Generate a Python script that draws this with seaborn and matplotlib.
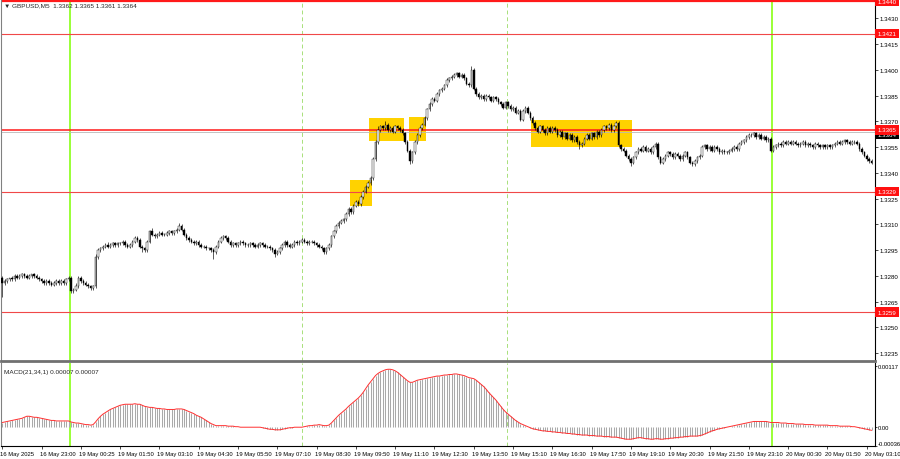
import numpy as np
import matplotlib
matplotlib.use("Agg")
import matplotlib.pyplot as plt
import matplotlib.transforms as mtransforms
from matplotlib.patches import Rectangle
import seaborn as sns

# GBPUSD M5 candles, prices in pips above 1.3000
first_open = 279
closes = [
    276, 277, 278, 279, 278, 280, 279, 280, 281, 280,
    279, 280, 281, 280, 279, 278, 277, 276, 277, 276,
    275, 276, 277, 276, 277, 276, 278, 279, 271, 272,
    274, 279, 277, 276, 275, 274, 273, 274, 291, 295,
    296, 297, 298, 297, 298, 299, 298, 299, 299, 300,
    298, 297, 298, 300, 302, 301, 297, 296, 295, 300,
    306, 304, 303, 304, 305, 304, 304, 305, 306, 305,
    306, 307, 309, 307, 304, 302, 301, 300, 299, 300,
    298, 297, 297, 296, 296, 295, 294, 297, 300, 302,
    303, 302, 300, 298, 299, 298, 299, 300, 299, 298,
    298, 299, 298, 297, 298, 299, 298, 297, 297, 296,
    295, 293, 294, 296, 298, 300, 298, 297, 298, 300,
    299, 300, 301, 300, 299, 300, 300, 299, 298, 297,
    296, 294, 296, 298, 303, 306, 309, 311, 312, 313,
    316, 319, 317, 321, 323, 322, 326, 329, 332, 334,
    337, 348, 358, 365, 367, 366, 368, 365, 366, 364,
    367, 366, 365, 363, 358, 353, 347, 352, 358, 362,
    366, 368, 372, 377, 380, 383, 382, 386, 388, 389,
    391, 394, 395, 396, 397, 398, 396, 397, 395, 392,
    391, 400, 389, 386, 384, 385, 383, 385, 384, 382,
    384, 383, 381, 380, 378, 381, 379, 377, 378, 375,
    376, 371, 376, 378, 375, 372, 369, 366, 364, 367,
    365, 363, 366, 364, 366, 365, 362, 364, 361, 363,
    360, 362, 359, 361, 358, 356, 357, 360, 362, 360,
    363, 361, 364, 362, 365, 367, 366, 368, 365, 367,
    369, 356, 354, 353, 350, 348, 346, 349, 352, 354,
    353, 355, 353, 354, 352, 355, 357, 349, 346, 348,
    350, 352, 351, 349, 351, 350, 348, 350, 352, 349,
    346, 345, 347, 349, 350, 355, 356, 354, 355, 353,
    355, 354, 352, 353, 352, 352, 353, 354, 355, 354,
    357, 358, 359, 361, 362, 362, 363, 361, 362, 360,
    361, 359, 360, 353, 355, 356, 357, 356, 358, 357,
    358, 357, 358, 357, 356, 357, 358, 356, 357, 356,
    355, 357, 356, 355, 356, 355, 356, 355, 356, 357,
    358, 357, 358, 359, 358, 357, 358, 358, 357, 354,
    352, 350, 348, 347, 346,
]
# wick length above / below the body, pips
hi_wick = [
    1, 1, 1, 0, 1, 1, 1, 1, 1, 1,  1, 1, 0, 1, 1, 1, 1, 1, 1, 1,
    1, 1, 1, 1, 1, 1, 1, 1, 1, 1,  2, 1, 1, 1, 1, 1, 1, 1, 2, 1,
    1, 1, 1, 2, 1, 1, 1, 1, 1, 1,  1, 1, 1, 1, 1, 1, 1, 1, 1, 1,
    1, 2, 1, 1, 1, 1, 1, 1, 1, 1,  1, 1, 2, 1, 1, 1, 1, 1, 1, 1,
    1, 1, 1, 1, 1, 1, 1, 1, 1, 1,  1, 1, 1, 1, 1, 1, 1, 1, 1, 1,
    1, 1, 1, 1, 1, 1, 1, 1, 1, 1,  1, 1, 1, 1, 1, 1, 1, 1, 1, 1,
    1, 1, 1, 1, 1, 1, 1, 1, 1, 1,  1, 1, 1, 1, 1, 1, 1, 1, 1, 1,
    1, 1, 1, 1, 1, 1, 1, 1, 1, 1,  1, 1, 1, 2, 1, 1, 2, 1, 1, 1,
    1, 1, 1, 1, 1, 1, 1, 1, 1, 1,  1, 1, 1, 1, 1, 1, 1, 1, 1, 1,
    1, 1, 1, 1, 1, 1, 1, 1, 1, 1,  1, 2, 1, 1, 1, 1, 1, 1, 1, 1,
    1, 1, 1, 1, 1, 1, 1, 1, 1, 1,  1, 1, 1, 1, 1, 1, 1, 1, 1, 1,
    1, 1, 1, 1, 1, 1, 1, 1, 1, 1,  1, 1, 1, 1, 1, 1, 1, 1, 1, 1,
    1, 1, 1, 1, 1, 1, 1, 1, 1, 1,  1, 1, 1, 1, 1, 1, 1, 1, 1, 1,
    1, 1, 1, 1, 1, 1, 1, 1, 1, 1,  1, 1, 1, 1, 1, 1, 1, 1, 1, 1,
    1, 1, 1, 1, 1, 1, 1, 1, 1, 1,  1, 1, 1, 1, 1, 1, 1, 1, 1, 1,
    1, 1, 1, 1, 1, 1, 1, 1, 1, 1,  1, 1, 1, 1, 1, 1, 1, 1, 1, 1,
    1, 1, 1, 1, 1, 1, 1, 1, 1, 1,  1, 1, 1, 1, 1, 1, 1, 1, 1, 1,
    1, 1, 1, 1, 1, 1, 1, 1, 1, 1,
    1, 1, 1, 1, 1,
]
lo_wick = [
    8, 1, 1, 1, 1, 1, 1, 1, 1, 1,  1, 1, 1, 1, 1, 1, 1, 1, 1, 1,
    1, 1, 1, 1, 1, 1, 1, 1, 1, 1,  1, 1, 1, 1, 1, 1, 1, 1, 1, 1,
    1, 1, 1, 1, 1, 1, 1, 1, 1, 1,  1, 1, 1, 1, 1, 1, 1, 2, 1, 1,
    1, 1, 1, 1, 1, 1, 1, 1, 1, 1,  1, 1, 1, 1, 1, 1, 1, 1, 1, 1,
    1, 1, 1, 1, 1, 1, 4, 1, 1, 1,  1, 1, 1, 1, 1, 1, 1, 1, 1, 1,
    1, 1, 1, 1, 1, 1, 1, 1, 1, 1,  1, 2, 1, 1, 1, 1, 1, 1, 1, 1,
    1, 1, 1, 1, 1, 1, 1, 1, 1, 1,  1, 1, 1, 1, 1, 1, 1, 1, 1, 1,
    1, 1, 1, 1, 1, 1, 1, 1, 1, 1,  1, 1, 1, 1, 1, 1, 1, 1, 1, 1,
    1, 1, 1, 1, 1, 1, 2, 1, 1, 1,  1, 1, 1, 1, 1, 1, 1, 1, 1, 1,
    1, 1, 1, 1, 1, 1, 1, 1, 1, 1,  1, 1, 1, 1, 1, 1, 1, 1, 1, 1,
    1, 1, 1, 1, 1, 1, 1, 1, 1, 1,  1, 1, 1, 1, 1, 1, 1, 1, 1, 1,
    1, 1, 1, 1, 1, 1, 1, 1, 1, 1,  1, 1, 1, 1, 1, 2, 1, 1, 1, 1,
    1, 1, 1, 1, 1, 1, 1, 1, 1, 1,  1, 1, 1, 1, 1, 1, 2, 1, 1, 1,
    1, 1, 1, 1, 1, 1, 1, 1, 1, 1,  1, 1, 1, 1, 1, 1, 1, 1, 1, 1,
    1, 1, 1, 1, 1, 1, 1, 1, 1, 1,  1, 1, 1, 1, 1, 1, 1, 1, 1, 1,
    1, 1, 1, 1, 1, 1, 1, 1, 1, 1,  1, 1, 1, 1, 1, 1, 1, 1, 1, 1,
    1, 1, 1, 1, 1, 1, 1, 1, 1, 1,  1, 1, 1, 1, 1, 1, 1, 1, 1, 1,
    1, 1, 1, 1, 1, 1, 1, 1, 1, 1,
    1, 1, 1, 1, 1,
]
# MACD(21,34,1) main value, units of 1e-5
macd = [
    9, 10, 11, 12, 13, 14, 15, 16, 17, 19,
    21, 21, 20, 19, 19, 18, 17, 16, 15, 14,
    13, 13, 12, 12, 12, 12, 12, 12, 10, 9,
    8, 8, 7, 6, 5, 5, 4, 5, 10, 16,
    21, 25, 28, 31, 34, 36, 38, 40, 42, 43,
    44, 44, 44, 44, 45, 44, 44, 42, 40, 39,
    38, 38, 37, 36, 36, 35, 35, 34, 34, 34,
    34, 35, 35, 35, 34, 32, 30, 28, 26, 23,
    21, 19, 16, 13, 10, 7, 5, 3, 3, 3,
    3, 3, 2, 2, 2, 1, 1, 0, 0, 0,
    0, 0, 0, 0, 0, 0, -1, -2, -3, -4,
    -4, -5, -5, -5, -4, -3, -2, -1, -1, 0,
    0, 0, 0, 1, 2, 3, 3, 4, 4, 5,
    4, 3, 3, 4, 8, 13, 18, 23, 27, 31,
    35, 40, 44, 48, 52, 56, 61, 67, 74, 81,
    87, 93, 99, 103, 106, 108, 110, 111, 111, 110,
    108, 105, 101, 97, 93, 89, 86, 86, 88, 90,
    91, 92, 93, 94, 95, 96, 97, 98, 98, 99,
    100, 100, 101, 101, 102, 102, 101, 100, 99, 97,
    95, 94, 93, 90, 86, 82, 78, 73, 67, 62,
    57, 52, 46, 40, 34, 29, 25, 21, 17, 13,
    10, 7, 5, 3, 1, -1, -3, -4, -5, -6,
    -7, -7, -8, -8, -9, -9, -10, -10, -11, -11,
    -12, -12, -13, -13, -14, -14, -15, -15, -15, -16,
    -16, -16, -17, -17, -17, -18, -18, -18, -19, -19,
    -19, -20, -21, -22, -23, -23, -23, -22, -21, -20,
    -20, -21, -22, -22, -23, -23, -22, -22, -23, -23,
    -22, -22, -21, -21, -20, -20, -19, -19, -18, -18,
    -17, -17, -17, -17, -16, -15, -13, -11, -9, -7,
    -6, -4, -3, -2, -1, 0, 1, 2, 3, 4,
    5, 6, 7, 8, 9, 10, 11, 11, 11, 11,
    11, 11, 10, 9, 9, 9, 9, 8, 8, 8,
    7, 7, 7, 6, 6, 6, 6, 5, 5, 5,
    5, 4, 4, 4, 4, 4, 4, 3, 3, 3,
    3, 2, 2, 2, 2, 2, 1, 1, 0, -1,
    -2, -3, -4, -5, -6,
]

time_labels = ["16 May 2025", "16 May 23:00", "19 May 00:25", "19 May 01:50",
               "19 May 03:10", "19 May 04:30", "19 May 05:50", "19 May 07:10",
               "19 May 08:30", "19 May 09:50", "19 May 11:10", "19 May 12:30",
               "19 May 13:50", "19 May 15:10", "19 May 16:30", "19 May 17:50",
               "19 May 19:10", "19 May 20:30", "19 May 21:50", "19 May 23:10",
               "20 May 00:30", "20 May 01:50", "20 May 03:10"]
level_prices = [1.3440, 1.3421, 1.3365, 1.3329, 1.3259]
bid_price = 1.3364
day_starts = [27.6, 313.4]       # bar index of new trading day
session_marks = [122.1, 205.5]
# yellow zones: bar from, bar to, price low (pips), price high (pips)
zone_bar0 = [141.5, 149.5, 165.5, 215.5]
zone_bar1 = [150.6, 163.6, 172.6, 256.5]
zone_lo = [320.5, 358.5, 358.5, 355.0]
zone_hi = [336.0, 372.0, 372.5, 370.5]

sns.set_style("white")
plt.rcParams['font.family'] = ['Liberation Sans', 'DejaVu Sans']
FS = 4.4

c = 1.3 + np.array(closes) / 1e4
o = 1.3 + np.array([first_open] + closes[:-1]) / 1e4
hi = np.maximum(o, c) + np.array(hi_wick) / 1e4
lo = np.minimum(o, c) - np.array(lo_wick) / 1e4
x = np.arange(len(c))
m = np.array(macd) / 1e5

fig = plt.figure(figsize=(9, 4.6), dpi=100)
ax = fig.add_axes([1 / 900, 1 - 362 / 460, 874 / 900, 362 / 460])
ax2 = fig.add_axes([1 / 900, 13 / 460, 874 / 900, 83 / 460])

xmax = 874 / 2.456 - 0.5
for a in (ax, ax2):
    a.set_xlim(-0.5, xmax)
    a.set_facecolor("white")
    for d in day_starts:
        a.axvline(d, color="#7fff00", lw=1.1, zorder=1)
    for d in session_marks:
        a.axvline(d, color="#a8e07a", lw=0.7, ls=(0, (4, 3)), zorder=1)

ax.set_ylim(1.32305, 1.34412)

# zones
for b0, b1, zl, zh in zip(zone_bar0, zone_bar1, zone_lo, zone_hi):
    ax.add_patch(Rectangle((b0, 1.3 + zl / 1e4), b1 - b0, (zh - zl) / 1e4,
                           facecolor="#ffd200", edgecolor="none", zorder=0.5))

# level lines
for p in level_prices:
    if p == 1.3440:
        ax.axhline(p, color="#ff1a1a", lw=1.6, zorder=2)
    elif p == 1.3365:
        ax.axhline(p, color="#ff1a1a", lw=1.1, zorder=2)
    else:
        ax.axhline(p, color="#f04848", lw=0.8, zorder=2)
ax.axhline(bid_price, color="#b8b8b8", lw=0.6, zorder=1.5)

# candles
ax.vlines(x, lo, hi, color="black", lw=0.45, zorder=3)
up = c >= o
ax.bar(x[up], (c - o)[up], bottom=o[up], width=0.62, color="white",
       edgecolor="black", linewidth=0.3, zorder=4)
ax.bar(x[~up], (o - c)[~up], bottom=c[~up], width=0.62, color="black",
       edgecolor="black", linewidth=0.3, zorder=4)

# price axis
ticks = np.arange(1.3235, 1.3431, 0.0015)
ax.yaxis.tick_right()
ax.set_yticks(ticks)
ax.set_yticklabels([f"{v:.4f}" for v in ticks])
ax.tick_params(axis="y", right=True, length=2, width=0.5, pad=1.2,
               labelsize=FS, colors="black")
ax.set_xticks([])

trans = mtransforms.blended_transform_factory(ax.transAxes, ax.transData)
ax.text(1.003, bid_price, f"{bid_price:.4f}", transform=trans, fontsize=FS,
        color="white", va="top", ha="left", clip_on=False, zorder=5,
        bbox=dict(boxstyle="square,pad=0.35", fc="black", ec="none"))
for p in level_prices:
    ax.text(1.003, p, f"{p:.4f}", transform=trans, fontsize=FS, color="white",
            va="center", ha="left", clip_on=False, zorder=6,
            bbox=dict(boxstyle="square,pad=0.35", fc="#ff1010", ec="none"))

ax.text(0.004, 0.99, "\u25BC GBPUSD,M5  1.3362 1.3365 1.3361 1.3364",
        transform=ax.transAxes, fontsize=FS + 0.2, va="top", ha="left")

# MACD panel
ax2.set_ylim(-0.00036, 0.00123)
ax2.vlines(x, 0, m, color="#a9a9a9", lw=0.75, zorder=2)
sns.lineplot(x=x, y=m, ax=ax2, color="#ff3030", lw=0.7, zorder=3)
ax2.set_ylabel("")
ax2.yaxis.tick_right()
ax2.set_yticks([0.00117, 0.0, -0.00036])
ax2.set_yticklabels(["0.00117", "0.00", "-0.00036"])
ax2.tick_params(axis="y", right=True, length=1.5, width=0.5, pad=0.6,
                labelsize=FS - 0.2, colors="black")
for lbl, va in zip(ax2.get_yticklabels(), ["center", "center", "bottom"]):
    lbl.set_va(va)
ax2.text(0.004, 0.93, "MACD(21,34,1) 0.00007 0.00007", transform=ax2.transAxes,
         fontsize=FS + 0.2, va="top", ha="left")

ax2.set_xticks(np.arange(0, len(c), 16)[:len(time_labels)])
ax2.set_xticklabels(time_labels, ha="left")
ax2.tick_params(axis="x", bottom=True, length=2.5, width=0.5, pad=1,
                labelsize=FS - 0.2, colors="black")
shift = mtransforms.ScaledTranslation(-2 / 100, 0, fig.dpi_scale_trans)
for lbl in ax2.get_xticklabels():
    lbl.set_transform(lbl.get_transform() + shift)

for a in (ax, ax2):
    for s in a.spines.values():
        s.set_color("#808080")
        s.set_linewidth(0.8)
    a.spines["right"].set_color("black")
ax.spines["top"].set_visible(False)
ax.spines["bottom"].set_linewidth(2.0)
ax.spines["bottom"].set_color("#707070")
ax2.spines["top"].set_visible(False)
ax2.spines["bottom"].set_color("black")

fig.savefig("out.png", dpi=100)
